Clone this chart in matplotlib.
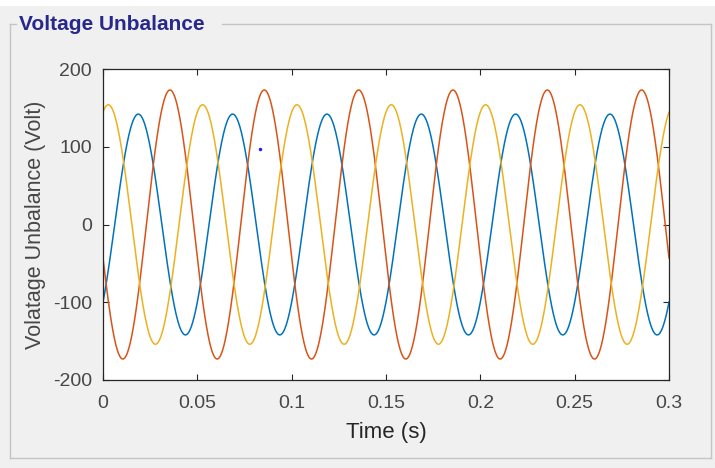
import numpy as np
import matplotlib.pyplot as plt
from matplotlib.patches import Rectangle
from matplotlib.lines import Line2D

# phase data (all three are 20 Hz)
freq = 20.0
phase_names = ['Va', 'Vb', 'Vc']
amplitudes = [142, 173, 154]          # peak volts
peak_times = [0.0187, 0.0355, 0.0028]  # time of first positive peak (s)
colors = ['#0072BD', '#D95319', '#EDB120']

# stray data tip point
tip_t, tip_v = [0.083], [97]

xticks = [0, 0.05, 0.1, 0.15, 0.2, 0.25, 0.3]
xticklabels = ['0', '0.05', '0.1', '0.15', '0.2', '0.25', '0.3']
yticks = [-200, -100, 0, 100, 200]

plt.rcParams['font.family'] = ['Liberation Sans', 'DejaVu Sans']
plt.rcParams['axes.unicode_minus'] = False

fig = plt.figure(figsize=(7.15, 4.68), dpi=100)
fig.patch.set_facecolor('#f0f0f0')

W, H = 715.0, 468.0
def fx(p):
    return p / W
def fy(p):
    return 1 - p / H

# white strip at the very top + panel frame
fig.add_artist(Rectangle((0, fy(6)), 1, 6 / H, transform=fig.transFigure,
                         facecolor='white', edgecolor='none'))
frame_col = '#c4c4c4'
fig.add_artist(Line2D([fx(10), fx(10)], [fy(24), fy(458)], color=frame_col, lw=1))
fig.add_artist(Line2D([fx(10), fx(711)], [fy(458), fy(458)], color=frame_col, lw=1))
fig.add_artist(Line2D([fx(711), fx(711)], [fy(24), fy(458)], color=frame_col, lw=1))
fig.add_artist(Line2D([fx(10), fx(16)], [fy(24), fy(24)], color=frame_col, lw=1))
fig.add_artist(Line2D([fx(222), fx(711)], [fy(24), fy(24)], color=frame_col, lw=1))
fig.text(fx(19), fy(25), 'Voltage Unbalance', color='#28288c', fontsize=15,
         fontweight='bold', va='center', ha='left')

ax = fig.add_axes([103 / W, 88 / H, 566 / W, 311 / H])
t = np.linspace(0, 0.3, 3001)
for name, amp, tp, c in zip(phase_names, amplitudes, peak_times, colors):
    v = amp * np.cos(2 * np.pi * freq * (t - tp))
    ax.plot(t, v, color=c, lw=1.1, label=name)
ax.plot(tip_t, tip_v, 'o', color='#2020ff', ms=1.5)

ax.set_xlim(0, 0.3)
ax.set_ylim(-200, 200)
ax.set_xticks(xticks)
ax.set_xticklabels(xticklabels)
ax.set_yticks(yticks)
ax.tick_params(direction='in', length=4, width=0.8, top=True, right=True,
               labelsize=14, colors='#262626', labelcolor='#474747')
ax.tick_params(axis='x', pad=11)
ax.tick_params(axis='y', pad=8)
for s in ax.spines.values():
    s.set_color('#262626')
    s.set_linewidth(0.9)
ax.set_xlabel('Time (s)', fontsize=16, color='#262626', labelpad=7)
ax.set_ylabel('Volatage Unbalance (Volt)', fontsize=15.5, color='#474747', labelpad=5)

fig.savefig('out.png', dpi=100, facecolor=fig.get_facecolor())
